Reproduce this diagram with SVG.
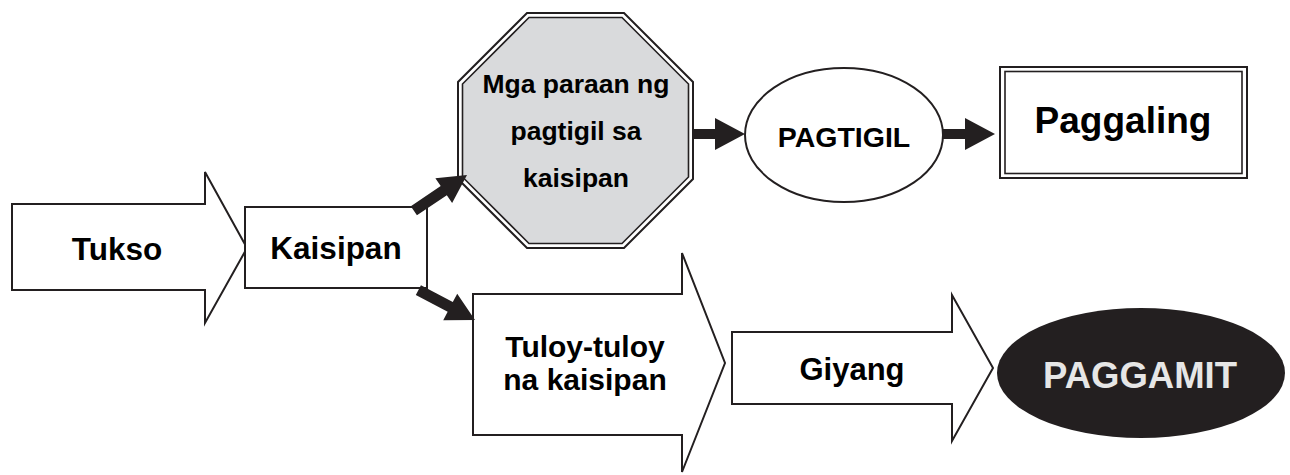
<svg xmlns="http://www.w3.org/2000/svg" width="1290" height="475" viewBox="0 0 1290 475">
<style>
.shape{fill:#ffffff;stroke:#231f20;stroke-width:2;stroke-linejoin:miter}
.t{font-family:"Liberation Sans",Arial,sans-serif;font-weight:bold;fill:#000000;text-anchor:middle}
.conn{fill:#231f20;stroke:none}
</style>
<defs>
<path id="thick" d="M-64,-5.5 L-28,-5.5 L-28,-15 L0,0 L-28,15 L-28,5.5 L-64,5.5 Z"/>
</defs>
<rect width="1290" height="475" fill="#ffffff"/>

<g id="node-tukso">
<path class="shape" d="M12,204 L205,204 L205,172 L247,248 L205,323 L205,290 L12,290 Z"/>
<text class="t" x="117" y="260" font-size="31.5">Tukso</text>
</g>

<g id="node-kaisipan">
<rect class="shape" x="245" y="207" width="182" height="81"/>
<text class="t" x="336" y="259" font-size="31.5">Kaisipan</text>
</g>

<g id="node-paraan">
<path d="M527,13 L624,13 L693,82 L693,179 L624,248 L527,248 L458,179 L458,82 Z" fill="#ffffff" stroke="#231f20" stroke-width="2"/>
<path d="M529,17.5 L622,17.5 L688.5,84 L688.5,177 L622,243.5 L529,243.5 L462.5,177 L462.5,84 Z" fill="#d9dadc" stroke="#231f20" stroke-width="1.6"/>
<text class="t" x="576" y="93" font-size="26.5">Mga paraan ng</text>
<text class="t" x="576" y="140" font-size="26.5">pagtigil sa</text>
<text class="t" x="576" y="187" font-size="26.5">kaisipan</text>
</g>

<g id="node-pagtigil">
<ellipse class="shape" cx="844" cy="135" rx="99" ry="67"/>
<text class="t" x="844" y="147" font-size="28.5">PAGTIGIL</text>
</g>

<g id="node-paggaling">
<rect x="1000" y="67" width="247" height="111" fill="#ffffff" stroke="#231f20" stroke-width="2"/>
<rect x="1005" y="71.5" width="237" height="102" fill="none" stroke="#231f20" stroke-width="1.6"/>
<text class="t" x="1123" y="133" font-size="37">Paggaling</text>
</g>

<g id="node-tuloy">
<path class="shape" d="M473,294 L682,294 L682,253 L725,363 L682,472 L682,435 L473,435 Z"/>
<text class="t" x="585" y="357" font-size="30">Tuloy-tuloy</text>
<text class="t" x="585" y="390" font-size="30">na kaisipan</text>
</g>

<g id="node-giyang">
<path class="shape" d="M732,332 L952,332 L952,295 L993,368 L952,441 L952,404 L732,404 Z"/>
<text class="t" x="852" y="380" font-size="31">Giyang</text>
</g>

<g id="node-paggamit">
<ellipse cx="1141" cy="373" rx="144" ry="65" fill="#231f20"/>
<text class="t" x="1140" y="388" font-size="36.5" style="fill:#e6e6e6">PAGGAMIT</text>
</g>

<g id="connectors">
<use href="#thick" class="conn" transform="translate(467,175) rotate(-33.9)"/>
<use href="#thick" class="conn" transform="translate(475,320) rotate(27.8)"/>
<path class="conn" d="M693,129 L715,129 L715,118 L745,134 L715,150 L715,139 L693,139 Z"/>
<path class="conn" d="M943,129 L965,129 L965,118 L995,134 L965,150 L965,139 L943,139 Z"/>
</g>
</svg>
